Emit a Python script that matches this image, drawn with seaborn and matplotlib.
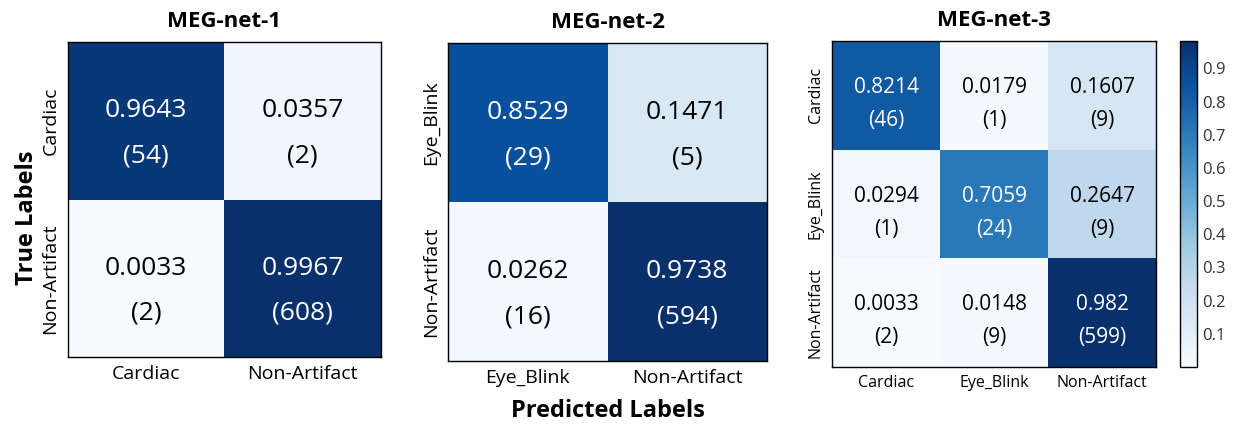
import numpy as np
import matplotlib
matplotlib.use("Agg")
import matplotlib.pyplot as plt
import seaborn as sns

# confusion matrices (normalised rate, count)
titles = ["MEG-net-1", "MEG-net-2", "MEG-net-3"]
labels_1 = ["Cardiac", "Non-Artifact"]
rates_1 = [[0.9643, 0.0357], [0.0033, 0.9967]]
counts_1 = [[54, 2], [2, 608]]

labels_2 = ["Eye_Blink", "Non-Artifact"]
rates_2 = [[0.8529, 0.1471], [0.0262, 0.9738]]
counts_2 = [[29, 5], [16, 594]]

labels_3 = ["Cardiac", "Eye_Blink", "Non-Artifact"]
rates_3 = [[0.8214, 0.0179, 0.1607], [0.0294, 0.7059, 0.2647], [0.0033, 0.0148, 0.982]]
counts_3 = [[46, 1, 9], [1, 24, 9], [2, 9, 599]]

cbar_ticks = [0.1, 0.2, 0.3, 0.4, 0.5, 0.6, 0.7, 0.8, 0.9]

sns.set_style("white")
plt.rcParams['font.family'] = ['Open Sans', 'DejaVu Sans']
plt.rcParams['text.color'] = 'black'
plt.rcParams['xtick.color'] = 'black'
plt.rcParams['ytick.color'] = 'black'

fig = plt.figure(figsize=(12.4, 4.26), dpi=100)
ax1 = fig.add_axes([0.0548, 0.162, 0.2524, 0.739])
ax2 = fig.add_axes([0.3613, 0.1526, 0.2573, 0.7465])
ax3 = fig.add_axes([0.671, 0.1385, 0.2613, 0.765])
cax = fig.add_axes([0.9516, 0.1385, 0.0137, 0.765])

panels = [
    (ax1, labels_1, rates_1, counts_1, 19, 14),
    (ax2, labels_2, rates_2, counts_2, 19, 14),
    (ax3, labels_3, rates_3, counts_3, 15, 11.5),
]

for i, (ax, labs, rates, counts, afs, tfs) in enumerate(panels):
    r = np.array(rates)
    c = np.array(counts)
    annot = np.array([[f"{r[a, b]:g}\n({c[a, b]})" for b in range(r.shape[1])]
                      for a in range(r.shape[0])])
    last = i == 2
    sns.heatmap(r, ax=ax, cmap="Blues", vmin=0, annot=annot, fmt="",
                annot_kws={"fontsize": afs, "linespacing": 1.75 if last else 2.05},
                xticklabels=labs, yticklabels=labs,
                cbar=last, cbar_ax=cax if last else None)
    for t in ax.texts:
        if t.get_color() != "w":
            t.set_color("black")
        x, y = t.get_position()
        t.set_position((x, y + 0.08))
    for s in ax.spines.values():
        s.set_visible(True)
        s.set_color("black")
        s.set_linewidth(1.0)
    ax.tick_params(direction="in", length=4, top=True, right=True,
                   labelsize=tfs, color="#555555", pad=6)
    plt.setp(ax.get_yticklabels(), rotation=90, va="center")
    plt.setp(ax.get_xticklabels(), rotation=0)
    ax.set_title(titles[i], fontsize=16, fontweight="bold", pad=11)

cb = ax3.collections[0].colorbar
cb.set_ticks(cbar_ticks)
cb.ax.tick_params(labelsize=12, direction="in", length=4, colors="#333333")
cb.outline.set_visible(True)
cb.outline.set_edgecolor("black")
cb.outline.set_linewidth(1.0)

fig.text(0.022, 0.49, "True Labels", rotation=90, fontsize=17,
         fontweight="bold", ha="center", va="center")
fig.text(0.49, 0.035, "Predicted Labels", fontsize=17,
         fontweight="bold", ha="center", va="center")

fig.savefig("out.png", dpi=100)
